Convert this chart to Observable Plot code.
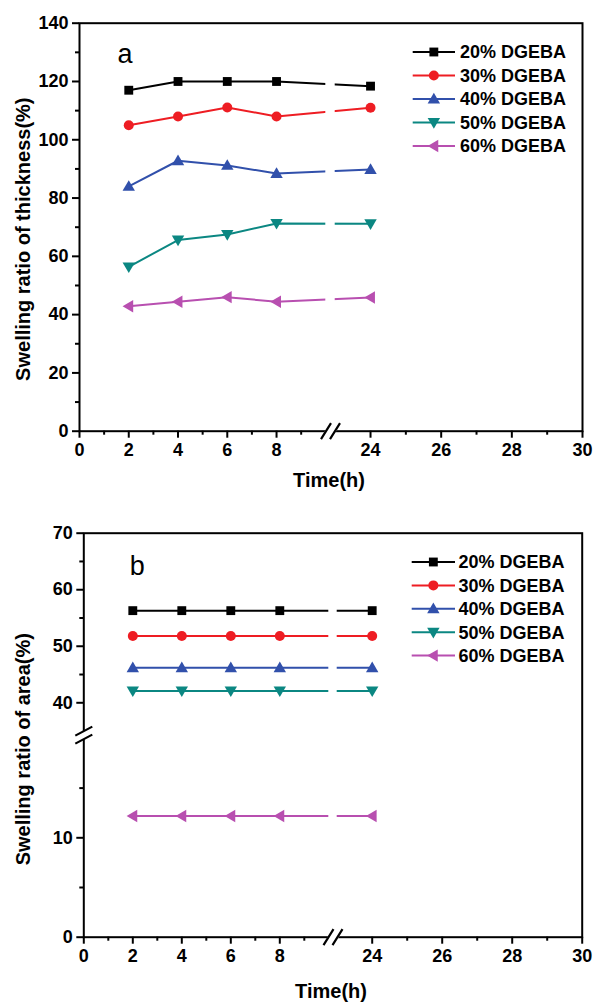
<!DOCTYPE html>
<html><head><meta charset="utf-8">
<script src="https://cdn.jsdelivr.net/npm/d3@7"></script>
<script src="https://cdn.jsdelivr.net/npm/@observablehq/plot@0.6"></script>
<style>
body{margin:0;background:#fff;}
#wrap{position:relative;width:593px;height:1003px;font-family:"Liberation Sans",Arial,sans-serif;}
#wrap > svg{position:absolute;left:0;}
</style></head><body><div id="wrap"></div>
<script>
// ---- data ----
const times = [2, 4, 6, 8, 24];
const seriesNames = ["20% DGEBA", "30% DGEBA", "40% DGEBA", "50% DGEBA", "60% DGEBA"];
const seriesColors = ["#000000", "#ee1d23", "#3150ab", "#0b8782", "#b84fb0"];

const thick20 = [117.0, 120.0, 120.0, 120.0, 118.4];
const thick30 = [105.0, 108.0, 111.1, 108.0, 111.0];
const thick40 = [84.0, 92.8, 91.2, 88.4, 89.8];
const thick50 = [56.4, 65.6, 67.5, 71.3, 71.2];
const thick60 = [42.9, 44.4, 46.0, 44.4, 45.9];

const area20 = [56.3, 56.3, 56.3, 56.3, 56.3];
const area30 = [51.8, 51.8, 51.8, 51.8, 51.8];
const area40 = [46.2, 46.2, 46.2, 46.2, 46.2];
const area50 = [42.1, 42.1, 42.1, 42.1, 42.1];
const area60 = [12.2, 12.2, 12.2, 12.2, 12.2];

const xMajorTicks = [0, 2, 4, 6, 8, 24, 26, 28, 30];
const xMinorTicks = [1, 3, 5, 7, 9, 25, 27, 29];
const yMajorTicksA = [0, 20, 40, 60, 80, 100, 120, 140];
const yMinorTicksA = [10, 30, 50, 70, 90, 110, 130];
const yMajorTicksB = [0, 10, 40, 50, 60, 70];
const yMinorTicksB = [5, 15, 45, 55, 65];

// ---- symbols ----
const triUp = {draw(c, size) {const s = Math.sqrt(size); c.moveTo(0, -0.7*s); c.lineTo(0.7*s, 0.5*s); c.lineTo(-0.7*s, 0.5*s); c.closePath();}};
const triDown = {draw(c, size) {const s = Math.sqrt(size); c.moveTo(0, 0.7*s); c.lineTo(0.7*s, -0.5*s); c.lineTo(-0.7*s, -0.5*s); c.closePath();}};
const triLeft = {draw(c, size) {const s = Math.sqrt(size); c.moveTo(-0.7*s, 0); c.lineTo(0.5*s, -0.7*s); c.lineTo(0.5*s, 0.7*s); c.closePath();}};
const seriesSymbols = [d3.symbolSquare, d3.symbolCircle, triUp, triDown, triLeft];

// axis break glyphs
const slashX = {draw(c) {for (const o of [-4.5, 4.5]) {c.moveTo(o - 5, 8); c.lineTo(o + 5, -8);}}};
const slashXBg = {draw(c) {c.moveTo(-9.5, 8); c.lineTo(-0.5, 8); c.lineTo(9.5, -8); c.lineTo(0.5, -8); c.closePath();}};
const slashY = {draw(c) {for (const o of [-4, 4]) {c.moveTo(-8.5, o + 4.5); c.lineTo(8.5, o - 4.5);}}};
const slashYBg = {draw(c) {c.moveTo(-8.5, 8.5); c.lineTo(8.5, -0.5); c.lineTo(8.5, -8.5); c.lineTo(-8.5, 0.5); c.closePath();}};

const FONT = "'Liberation Sans', Arial, sans-serif";

function makeChart({series, yDomain, yRange, yMajor, yMinor, xRange, height, margins, letter, ytitle, ytitleDx, ytitleDy, xtitleDy, yBreak, letterDx, letterDy}) {
  const marks = [];
  series.forEach((vals, k) => {
    const rows = times.map((t, i) => ({t, v: vals[i]}));
    marks.push(Plot.line(rows, {x: "t", y: "v", stroke: seriesColors[k], strokeWidth: 2}));
  });
  // gap in the lines at the axis break
  marks.push(Plot.rect([0], {x1: 10, x2: 23, y1: yDomain[0], y2: yDomain[yDomain.length - 1], fill: "white"}));
  series.forEach((vals, k) => {
    const rows = times.map((t, i) => ({t, v: vals[i]}));
    marks.push(Plot.dot(rows, {x: "t", y: "v", symbol: seriesSymbols[k], r: 5, fill: seriesColors[k], stroke: "none"}));
  });
  marks.push(
    Plot.frame({stroke: "black", strokeWidth: 2}),
    Plot.axisX({ticks: xMajorTicks, tickSize: 7, tickPadding: 5, strokeWidth: 2, fontSize: 18, fontWeight: "bold", tickFormat: d => String(d), label: null}),
    Plot.axisX({ticks: xMinorTicks, tickSize: 4, strokeWidth: 2, tickFormat: () => "", label: null}),
    Plot.axisY({ticks: yMajor, tickSize: 7, tickPadding: 4, strokeWidth: 2, fontSize: 18, fontWeight: "bold", tickFormat: d => String(d), label: null}),
    Plot.axisY({ticks: yMinor, tickSize: 4, strokeWidth: 2, tickFormat: () => "", label: null}),
    Plot.dot([16.5], {x: d => d, frameAnchor: "bottom", symbol: slashXBg, r: 5, fill: "white", stroke: "white", strokeWidth: 2}),
    Plot.dot([16.5], {x: d => d, frameAnchor: "bottom", symbol: slashX, r: 5, fill: "none", stroke: "black", strokeWidth: 2.2}),
    Plot.text([ytitle], {text: d => d, frameAnchor: "left", textAnchor: "middle", lineAnchor: "middle", rotate: -90, dx: ytitleDx, dy: ytitleDy, fontSize: 20, fontWeight: "bold"}),
    Plot.text(["Time(h)"], {text: d => d, frameAnchor: "bottom", textAnchor: "middle", lineAnchor: "middle", dx: -2, dy: xtitleDy, fontSize: 20, fontWeight: "bold"}),
    Plot.text([letter], {text: d => d, frameAnchor: "top-left", textAnchor: "start", lineAnchor: "middle", dx: letterDx, dy: letterDy, fontSize: 27})
  );
  if (yBreak != null) {
    marks.push(
      Plot.dot([yBreak], {y: d => d, frameAnchor: "left", symbol: slashYBg, r: 5, fill: "white", stroke: "white", strokeWidth: 1}),
      Plot.dot([yBreak], {y: d => d, frameAnchor: "left", symbol: slashY, r: 5, fill: "none", stroke: "black", strokeWidth: 2.2})
    );
  }
  return Plot.plot({
    width: 593,
    height,
    ...margins,
    style: {fontFamily: FONT, background: "white", color: "black", overflow: "visible"},
    x: {type: "linear", domain: [0, 10, 23, 30], range: xRange},
    y: {type: "linear", domain: yDomain, range: yRange},
    marks
  });
}

const wrap = document.getElementById("wrap");

const chartA = makeChart({
  series: [thick20, thick30, thick40, thick50, thick60],
  yDomain: [0, 140], yRange: [430.7, 22.7],
  yMajor: yMajorTicksA, yMinor: yMinorTicksA,
  xRange: [79, 325.3, 334.7, 582],
  height: 505,
  margins: {marginTop: 22.7, marginLeft: 79, marginRight: 11, marginBottom: 74.3},
  letter: "a", ytitle: "Swelling ratio of thickness(%)", ytitleDx: -56, ytitleDy: 12, xtitleDy: 49,
  yBreak: null, letterDx: 38, letterDy: 31
});
chartA.style.top = "0px";
wrap.appendChild(chartA);

const chartB = makeChart({
  series: [area20, area30, area40, area50, area60],
  yDomain: [0, 20, 36, 70], yRange: [431.7, 232.9, 219.9, 27.7],
  yMajor: yMajorTicksB, yMinor: yMinorTicksB,
  xRange: [83.3, 328.3, 336.7, 581.7],
  height: 498,
  margins: {marginTop: 27.7, marginLeft: 83.3, marginRight: 11.3, marginBottom: 66.3},
  letter: "b", ytitle: "Swelling ratio of area(%)", ytitleDx: -60, ytitleDy: 14, xtitleDy: 54,
  yBreak: 24, letterDx: 46, letterDy: 33
});
chartB.style.top = "505px";
wrap.appendChild(chartB);

// ---- legends (HTML overlay) ----
function legend(top, lineX1, lineX2, textX, step) {
  const svg = d3.select(wrap).append("svg")
    .attr("width", 593).attr("height", 140)
    .style("position", "absolute").style("left", "0px").style("top", (top - 20) + "px")
    .style("font-family", FONT);
  seriesNames.forEach((name, k) => {
    const y = 20 + k * step;
    svg.append("line").attr("x1", lineX1).attr("x2", lineX2).attr("y1", y).attr("y2", y)
      .attr("stroke", seriesColors[k]).attr("stroke-width", 2);
    svg.append("path").attr("d", d3.symbol(seriesSymbols[k], 25 * Math.PI)())
      .attr("transform", `translate(${(lineX1 + lineX2) / 2},${y})`).attr("fill", seriesColors[k]);
    svg.append("text").attr("x", textX).attr("y", y).attr("dy", "0.35em")
      .attr("font-size", 18).attr("font-weight", "bold").attr("fill", "black").text(name);
  });
}
legend(52, 412.7, 455, 460, 23.5);
legend(562, 411.7, 455, 458.5, 23.4);
</script></body></html>
